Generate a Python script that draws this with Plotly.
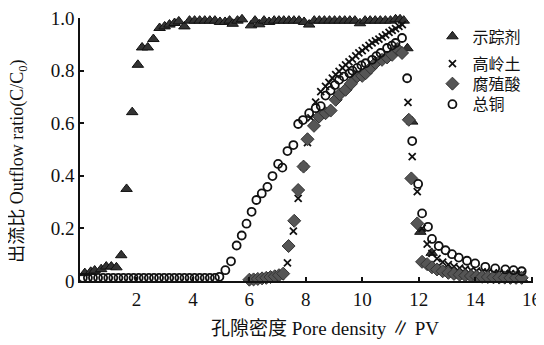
import plotly.graph_objects as go

# ---------------- data ----------------
tracer_x = [0.17, 0.38, 0.52, 0.75, 0.93, 1.11, 1.29, 1.46, 1.65, 1.85, 2.05, 2.2, 2.4, 2.6,
            2.82, 3.0, 3.17, 3.35, 3.5, 3.7,
            3.88, 4.06, 4.24, 4.42, 4.6, 4.78, 4.96, 5.14, 5.3, 5.41, 5.58, 5.74, 5.88, 6.06,
            6.2, 6.35, 6.52, 6.7, 6.88, 7.05, 7.22, 7.4, 7.58, 7.76, 7.94, 8.12, 8.3, 8.48,
            8.66, 8.84, 9.02, 9.2, 9.38, 9.56, 9.74, 9.92, 10.1, 10.28, 10.46, 10.64, 10.82,
            11.0, 11.18, 11.34, 11.47,
            11.6, 11.77, 12.06, 12.46, 12.7, 12.9, 13.1, 13.3, 13.5, 13.7, 13.9, 14.1, 14.3,
            14.5, 14.7, 14.9, 15.1, 15.3, 15.5, 15.65]
tracer_y = [0.03, 0.035, 0.04, 0.045, 0.055, 0.055, 0.052, 0.098, 0.35, 0.642, 0.822, 0.888, 0.888, 0.92,
            0.962, 0.968, 0.975, 0.981, 0.987, 0.968,
            0.99, 0.99, 0.99, 0.99, 0.99, 0.99, 0.985, 0.985, 0.99, 0.978, 0.99, 0.995, 1.005, 0.972,
            0.99, 0.976, 0.99, 0.985, 0.99, 0.99, 0.99, 0.99, 0.99, 0.99, 0.985, 0.975, 0.99, 0.99,
            0.99, 0.99, 0.99, 0.99, 0.99, 0.99, 0.99, 0.98, 0.99, 0.99, 0.99, 0.99, 0.99,
            0.99, 0.995, 0.995, 0.99,
            0.885, 0.606, 0.187, 0.107, 0.045, 0.037, 0.03, 0.025, 0.021, 0.018, 0.016, 0.014, 0.013,
            0.012, 0.011, 0.011, 0.01, 0.01, 0.01, 0.01]

kaolin_x = [6.1, 6.3, 6.5, 6.7, 6.9, 7.1, 7.35, 7.56, 7.73, 7.92, 8.06, 8.18, 8.35, 8.53, 8.7,
            8.82, 8.94, 9.06, 9.18, 9.3, 9.41, 9.53, 9.65, 9.77, 9.88, 10.0, 10.12, 10.24,
            10.35, 10.47, 10.59, 10.71, 10.83, 10.95, 11.06, 11.18, 11.3, 11.42,
            11.62, 11.77, 11.95, 12.12, 12.3, 12.47, 12.65, 12.85, 13.05, 13.25, 13.45, 13.65,
            13.85, 14.05, 14.25, 14.45, 14.65, 14.85, 15.05, 15.25, 15.45, 15.65]
kaolin_y = [0.008, 0.009, 0.01, 0.012, 0.014, 0.018, 0.069, 0.19, 0.314, 0.435, 0.526, 0.62, 0.68, 0.72, 0.74,
            0.755, 0.771, 0.785, 0.797, 0.81, 0.822, 0.833, 0.844, 0.856, 0.867, 0.876, 0.886, 0.896,
            0.905, 0.913, 0.92, 0.928, 0.936, 0.945, 0.953, 0.96, 0.968, 0.975,
            0.679, 0.473, 0.34, 0.2, 0.14, 0.105, 0.085, 0.072, 0.062, 0.055, 0.049, 0.045,
            0.041, 0.038, 0.035, 0.033, 0.031, 0.03, 0.029, 0.028, 0.027, 0.026]

humic_x = [6.0, 6.15, 6.3, 6.45, 6.6, 6.75, 6.9, 7.05, 7.2, 7.39, 7.59, 7.73, 7.92, 8.06, 8.29,
           8.47, 8.7, 8.88, 9.06, 9.2, 9.41, 9.6, 9.82, 10.0, 10.12, 10.3, 10.47, 10.7, 10.88,
           11.06, 11.24, 11.41, 11.65, 11.74, 11.95, 12.12, 12.3, 12.47, 12.65, 12.85, 13.05,
           13.25, 13.45, 13.65, 13.85, 14.05, 14.25, 14.45, 14.65, 14.85, 15.05, 15.25, 15.45, 15.65]
humic_y = [0.005, 0.006, 0.008, 0.01, 0.012, 0.015, 0.018, 0.022, 0.028, 0.133, 0.229, 0.346, 0.435, 0.539, 0.59,
           0.625, 0.638, 0.648, 0.689, 0.71, 0.727, 0.75, 0.778, 0.78, 0.79, 0.81, 0.829, 0.841, 0.85,
           0.86, 0.882, 0.867, 0.613, 0.39, 0.219, 0.073, 0.064, 0.052, 0.044, 0.037, 0.031,
           0.027, 0.024, 0.021, 0.019, 0.017, 0.016, 0.015, 0.014, 0.013, 0.013, 0.012, 0.012, 0.012]

copper_x = [0.1, 0.28, 0.46, 0.64, 0.82, 1.0, 1.18, 1.36, 1.54, 1.72, 1.9, 2.08, 2.26, 2.44, 2.62,
            2.8, 2.98, 3.16, 3.34, 3.52, 3.7, 3.88, 4.06, 4.24, 4.42, 4.6, 4.78,
            4.94, 5.15, 5.35, 5.55, 5.73, 5.9, 6.08, 6.25, 6.44, 6.64, 6.82, 7.02, 7.17, 7.35,
            7.56, 7.73, 7.9, 8.12, 8.35, 8.53, 8.7, 8.88, 9.03, 9.18, 9.35, 9.55, 9.65, 9.82,
            9.97, 10.12, 10.35, 10.5, 10.65, 10.88, 11.05, 11.18, 11.41,
            11.59, 11.77, 11.98, 12.12, 12.33, 12.47, 12.71, 12.95, 13.18, 13.42, 13.71, 14.0,
            14.36, 14.71, 15.07, 15.36, 15.65]
copper_y = [0.012] * 27 + [
            0.016, 0.041, 0.075, 0.135, 0.173, 0.218, 0.263, 0.308, 0.333, 0.358, 0.399, 0.445, 0.431, 0.494,
            0.517, 0.597, 0.612, 0.638, 0.657, 0.665, 0.705, 0.724, 0.745, 0.765, 0.777, 0.79, 0.8, 0.81,
            0.82, 0.828, 0.841, 0.855, 0.867, 0.886, 0.895, 0.905, 0.924,
            0.771, 0.532, 0.369, 0.257, 0.206, 0.16, 0.133, 0.117, 0.102, 0.089, 0.077, 0.067,
            0.054, 0.048, 0.044, 0.041, 0.037]

names = ["示踪剂", "高岭土", "腐殖酸", "总铜"]
x_ticks = [2, 4, 6, 8, 10, 12, 14, 16]
y_ticks = [0, 0.2, 0.4, 0.6, 0.8, 1.0]
y_tick_text = ["0", "0.2", "0.4", "0.6", "0.8", "1.0"]
x_title = "孔隙密度 Pore density ∥ PV"
y_title = "出流比 Outflow ratio(C/C<sub>0</sub>)"

FONT = "Liberation Serif, Noto Sans CJK SC, serif"
INK = "#111111"

fig = go.Figure()
fig.add_trace(go.Scatter(x=tracer_x, y=tracer_y, mode="markers", name=names[0], cliponaxis=False,
                         legend="legend",
                         marker=dict(symbol="triangle-up", size=10, color="#333333",
                                     line=dict(color=INK, width=1))))
fig.add_trace(go.Scatter(x=kaolin_x, y=kaolin_y, mode="markers", name=names[1], cliponaxis=False,
                         legend="legend2",
                         marker=dict(symbol="x-thin", size=7, color=INK,
                                     line=dict(color=INK, width=1.8))))
fig.add_trace(go.Scatter(x=humic_x, y=humic_y, mode="markers", name=names[2], cliponaxis=False,
                         legend="legend3",
                         marker=dict(symbol="diamond", size=10, color="#555555",
                                     line=dict(color="#333333", width=1))))
fig.add_trace(go.Scatter(x=copper_x, y=copper_y, mode="markers", name=names[3], cliponaxis=False,
                         legend="legend4",
                         marker=dict(symbol="circle-open", size=8, color=INK,
                                     line=dict(color=INK, width=1.8))))

def leg(yp):
    return dict(x=0.778, y=yp, xanchor="left", yanchor="middle", bgcolor="rgba(0,0,0,0)",
                font=dict(family="Noto Sans CJK SC", size=16, color=INK),
                itemwidth=30, borderwidth=0)

# the page body keeps an 8px margin, so the figure is 8px smaller and its margins 8px less
fig.update_layout(
    width=536, height=337,
    margin=dict(l=72, r=11, t=10, b=64, autoexpand=False),
    paper_bgcolor="white", plot_bgcolor="white",
    font=dict(family=FONT, size=18, color=INK),
    showlegend=True,
    legend=leg(0.93), legend2=leg(0.826), legend3=leg(0.75), legend4=leg(0.672),
    xaxis=dict(range=[0, 16.05], tickvals=x_ticks, ticks="inside", ticklen=4, tickwidth=1.5,
               tickcolor=INK, showline=True, linecolor=INK, linewidth=1.5, automargin=False,
               ticklabeloverflow="allow",
               showgrid=False, zeroline=False, tickfont=dict(family=FONT, size=19)),
    yaxis=dict(range=[0, 1.0], tickvals=y_ticks, ticktext=y_tick_text, ticks="inside", ticklen=4,
               tickwidth=1.5, tickcolor=INK, showline=True, linecolor=INK, linewidth=1.5,
               automargin=False, ticklabeloverflow="allow",
               showgrid=False, zeroline=False, tickfont=dict(family=FONT, size=19)),
    annotations=[
        dict(text=x_title, xref="paper", yref="paper", x=0.541, y=-0.179, xanchor="center",
             yanchor="middle", showarrow=False, font=dict(family=FONT, size=19, color=INK)),
        dict(text=y_title, xref="paper", yref="paper", x=-0.136, y=0.455, xanchor="center",
             yanchor="middle", textangle=-90, showarrow=False,
             font=dict(family=FONT, size=18, color=INK)),
    ],
)

fig.write_html("out.html")
